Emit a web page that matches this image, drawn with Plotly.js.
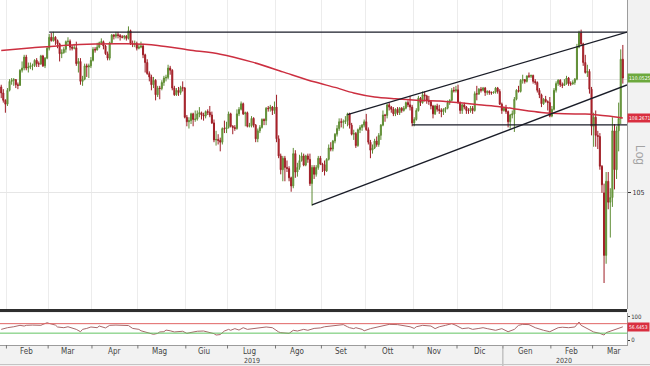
<!DOCTYPE html>
<html><head><meta charset="utf-8">
<script src="https://cdn.plot.ly/plotly-3.0.1.min.js"></script>
<style>html,body{margin:0;padding:0;background:#f2f2f2;}#chart{width:650px;height:366px;}</style>
</head><body><div id="chart"></div>
<script>
// ---------- DATA (USD/JPY daily) ----------
const firstDay = '2019-01-29';
const open = [
109.65,109.38,109.05,
108.88,109.50,109.90,109.95,109.98,109.75,109.72,110.40,110.50,111.00,110.50,110.55,110.60,110.62,110.85,110.70,110.68,111.05,110.60,110.95,
111.40,111.90,111.75,111.90,111.75,111.60,111.15,111.20,111.35,111.70,111.72,111.45,111.40,111.42,110.70,110.80,109.90,110.00,110.60,110.55,110.60,
110.85,111.35,111.32,111.45,111.65,111.70,111.50,111.15,110.95,111.65,112.00,111.95,112.02,111.98,111.92,111.90,111.95,111.85,112.20,111.60,111.58,111.62,
111.40,111.45,111.50,111.10,110.75,110.25,110.10,109.75,109.95,109.30,109.60,109.58,109.85,110.05,110.08,110.50,110.40,109.60,109.30,109.50,109.40,109.62,109.60,
108.30,108.10,108.15,108.45,108.20,108.22,108.45,108.50,108.40,108.35,108.55,108.52,108.40,108.05,107.30,107.32,107.28,107.20,107.80,107.78,
107.85,108.45,107.90,107.85,107.80,108.45,108.65,108.90,108.45,108.50,107.90,107.92,108.25,107.95,107.35,107.70,107.85,108.20,108.15,108.70,108.68,108.75,108.60,
108.75,107.35,106.60,106.00,106.50,106.10,106.05,105.65,105.30,106.70,105.90,106.10,106.40,106.60,106.20,106.60,106.45,105.40,106.10,105.80,106.10,106.50,
106.25,106.22,105.95,106.45,106.95,106.90,107.25,107.55,107.80,108.10,108.08,108.10,108.15,108.45,107.95,107.55,107.58,107.05,107.75,107.85,107.95,
108.10,107.75,107.20,106.85,106.95,107.25,107.10,107.50,107.95,108.40,108.38,108.85,108.75,108.65,108.45,108.65,108.50,108.70,108.60,108.70,108.95,108.85,108.75,
108.05,108.20,108.60,109.15,108.95,109.30,109.25,109.05,109.00,108.80,108.45,108.80,108.65,108.60,108.55,108.65,108.70,108.95,109.05,109.50,109.48,
109.52,108.95,108.60,108.85,108.75,108.60,108.58,108.70,108.60,109.35,109.33,109.55,109.50,109.60,109.40,109.45,109.40,109.38,109.42,109.60,109.45,108.88,
108.60,108.70,108.55,108.10,108.40,108.45,109.10,109.50,109.45,109.95,109.98,109.90,110.15,110.13,110.17,109.90,109.85,109.50,109.30,108.90,109.10,109.00,108.95,
108.35,108.65,109.50,109.80,109.95,109.75,109.72,109.80,110.05,109.80,109.78,109.85,110.00,111.45,112.10,111.60,110.75,110.30,110.35,109.55,
107.90,108.30,107.50,107.45,106.15,105.00,102.35,105.50,104.60,104.80,107.70,106.00,107.70,108.25,110.90
];
const high = [
109.75,109.55,109.10,
109.60,110.00,110.05,110.05,110.00,109.85,110.45,110.80,111.10,111.10,110.75,110.75,110.70,110.90,110.95,110.80,111.10,111.10,111.00,111.45,
112.05,112.10,112.15,111.95,111.80,111.65,111.35,111.45,111.75,111.90,111.80,111.55,111.60,111.70,110.95,110.95,110.15,110.70,110.70,110.70,111.00,
111.45,111.45,111.65,111.70,111.85,111.75,111.55,111.25,111.70,112.05,112.05,112.15,112.15,112.05,112.00,112.00,112.00,112.40,112.25,111.75,111.75,111.70,
111.60,111.70,111.60,111.15,110.90,110.35,110.20,110.10,110.00,109.70,109.70,109.95,110.15,110.20,110.65,110.60,110.45,109.70,109.60,109.65,109.70,109.90,109.65,
108.40,108.30,108.50,108.50,108.60,108.60,108.75,108.55,108.50,108.60,108.65,108.80,108.55,108.20,107.70,107.55,107.40,107.85,108.15,108.10,
108.55,108.50,107.95,107.95,108.65,108.75,109.00,108.95,108.55,108.55,108.05,108.35,108.30,108.00,107.80,107.95,108.25,108.25,108.75,108.80,108.85,108.80,109.00,
109.30,107.50,106.70,106.60,106.60,106.40,106.15,105.70,106.95,106.85,106.30,106.65,106.75,106.70,106.65,106.70,106.70,106.20,106.20,106.20,106.60,106.60,
106.30,106.40,106.50,107.10,107.20,107.30,107.60,107.95,108.25,108.25,108.20,108.35,108.50,108.50,108.05,107.75,107.65,107.80,107.95,108.00,108.20,
108.45,107.85,107.30,107.10,107.35,107.45,107.60,108.00,108.60,108.45,108.90,108.95,108.80,108.75,108.70,108.75,108.75,108.75,108.80,109.00,109.05,109.25,108.85,
108.30,108.70,109.25,109.20,109.45,109.45,109.30,109.25,109.05,108.85,108.85,108.90,108.85,108.70,108.70,108.75,109.05,109.10,109.60,109.65,109.70,
109.75,109.00,108.90,108.95,108.80,108.70,108.80,108.80,109.45,109.70,109.60,109.65,109.65,109.65,109.50,109.50,109.45,109.45,109.65,109.65,109.55,108.95,
108.75,108.85,108.60,108.45,108.60,109.20,109.55,109.70,110.00,110.20,110.00,110.15,110.30,110.20,110.20,110.00,109.90,109.60,109.35,109.15,109.25,109.05,109.20,
108.80,109.60,109.90,110.00,110.00,109.85,110.00,110.15,110.10,109.90,109.95,110.05,111.60,112.20,112.25,111.65,111.10,110.65,110.45,109.65,
108.50,108.60,107.70,107.60,106.20,105.40,105.90,105.90,105.20,108.30,108.00,107.90,108.95,111.35,111.55
];
const low = [
109.15,108.95,108.50,
108.80,109.45,109.75,109.70,109.60,109.55,109.70,110.30,110.40,110.40,110.30,110.45,110.40,110.55,110.55,110.55,110.65,110.55,110.50,110.90,
111.30,111.70,111.70,111.55,111.40,110.80,110.95,111.15,111.20,111.55,111.30,111.30,111.35,110.60,110.30,109.75,109.70,109.95,110.10,110.05,110.50,
110.80,111.20,111.30,111.40,111.55,111.35,111.10,110.85,110.85,111.60,111.80,111.85,111.85,111.75,111.85,111.80,111.75,111.80,111.55,111.45,111.45,111.30,
111.35,111.40,110.95,110.30,110.20,109.90,109.50,109.60,109.05,109.20,109.10,109.50,109.70,109.90,110.00,110.20,109.50,109.25,109.25,109.25,109.30,109.45,108.25,
107.90,107.80,108.00,107.90,108.10,108.15,108.30,108.20,108.15,108.25,108.40,108.30,108.00,107.20,107.05,107.10,106.80,107.10,107.60,107.60,
107.80,107.85,107.55,107.70,107.75,108.35,108.60,108.40,107.90,107.85,107.85,107.85,107.85,107.20,107.20,107.60,107.80,107.95,107.95,108.55,108.55,108.40,108.45,
107.20,106.50,105.80,105.50,105.50,105.90,105.50,105.05,105.20,105.65,105.70,106.00,106.35,106.15,106.15,106.30,105.30,104.45,105.60,105.70,106.00,106.20,
105.90,105.75,105.90,106.40,106.80,106.80,107.15,107.45,107.70,107.85,107.80,108.00,107.90,107.80,107.50,107.30,106.95,107.00,107.60,107.70,107.85,
107.70,107.10,106.50,106.70,106.90,107.00,107.00,107.30,107.90,108.10,108.25,108.60,108.50,108.35,108.35,108.40,108.40,108.50,108.55,108.65,108.75,108.60,107.90,
107.90,108.15,108.55,108.80,108.90,109.00,108.90,108.85,108.65,108.25,108.40,108.55,108.45,108.30,108.40,108.50,108.65,108.85,109.00,109.40,109.40,
108.90,108.45,108.45,108.65,108.45,108.45,108.50,108.45,108.55,109.05,109.30,109.40,109.45,109.25,109.30,109.30,109.30,109.35,109.35,109.35,108.85,108.45,
108.55,108.45,107.85,107.80,108.25,107.65,109.05,109.40,109.40,109.80,109.80,109.85,110.05,110.05,109.80,109.75,109.40,109.15,108.75,108.85,108.95,108.60,108.30,
108.30,108.60,109.40,109.70,109.65,109.60,109.70,109.75,109.70,109.70,109.75,109.75,109.95,111.40,111.50,110.60,110.25,110.10,109.35,107.50,
107.00,107.00,106.90,106.00,105.00,101.20,102.00,104.30,103.10,104.40,105.15,105.60,106.80,108.00,109.80
];
const close = [
109.38,109.05,108.88,
109.50,109.90,109.95,109.98,109.75,109.72,110.40,110.50,111.00,110.50,110.55,110.60,110.62,110.85,110.70,110.68,111.05,110.60,110.95,111.40,
111.90,111.75,111.90,111.75,111.60,111.15,111.20,111.35,111.70,111.72,111.45,111.40,111.42,110.70,110.80,109.90,110.00,110.60,110.55,110.60,110.85,
111.35,111.32,111.45,111.65,111.70,111.50,111.15,110.95,111.65,112.00,111.95,112.02,111.98,111.92,111.90,111.95,111.85,112.20,111.60,111.58,111.62,111.40,
111.45,111.50,111.10,110.75,110.25,110.10,109.75,109.95,109.30,109.60,109.58,109.85,110.05,110.08,110.50,110.40,109.60,109.30,109.50,109.40,109.62,109.60,108.30,
108.10,108.15,108.45,108.20,108.22,108.45,108.50,108.40,108.35,108.55,108.52,108.40,108.05,107.30,107.32,107.28,107.20,107.80,107.78,107.85,
108.45,107.90,107.85,107.80,108.45,108.65,108.90,108.45,108.50,107.90,107.92,108.25,107.95,107.35,107.70,107.85,108.20,108.15,108.70,108.68,108.75,108.60,108.75,
107.35,106.60,106.00,106.50,106.10,106.05,105.65,105.30,106.70,105.90,106.10,106.40,106.60,106.20,106.60,106.45,105.40,106.10,105.80,106.10,106.50,106.25,
106.22,105.95,106.45,106.95,106.90,107.25,107.55,107.80,108.10,108.08,108.10,108.15,108.45,107.95,107.55,107.58,107.05,107.75,107.85,107.95,108.10,
107.75,107.20,106.85,106.95,107.25,107.10,107.50,107.95,108.40,108.38,108.85,108.75,108.65,108.45,108.65,108.50,108.70,108.60,108.70,108.95,108.85,108.75,108.05,
108.20,108.60,109.15,108.95,109.30,109.25,109.05,109.00,108.80,108.45,108.80,108.65,108.60,108.55,108.65,108.70,108.95,109.05,109.50,109.48,109.52,
108.95,108.60,108.85,108.75,108.60,108.58,108.70,108.60,109.35,109.33,109.55,109.50,109.60,109.40,109.45,109.40,109.38,109.42,109.60,109.45,108.88,108.60,
108.70,108.55,108.10,108.40,108.45,109.10,109.50,109.45,109.95,109.98,109.90,110.15,110.13,110.17,109.90,109.85,109.50,109.30,108.90,109.10,109.00,108.95,108.35,
108.65,109.50,109.80,109.95,109.75,109.72,109.80,110.05,109.80,109.78,109.85,110.00,111.45,112.10,111.60,110.75,110.30,110.35,109.55,107.90,
108.30,107.50,107.45,106.15,105.35,102.35,105.50,104.60,104.80,107.70,106.00,107.70,108.25,110.90,110.05
];
const maDates = ['2019-01-29','2019-02-19','2019-03-12','2019-04-02','2019-04-23','2019-05-14','2019-06-04','2019-06-25','2019-07-16','2019-08-06','2019-08-27','2019-09-10','2019-09-23','2019-10-07','2019-10-21','2019-11-04','2019-11-19','2019-12-03','2019-12-16','2019-12-30','2020-01-13','2020-01-27','2020-02-11','2020-02-25','2020-03-04','2020-03-11','2020-03-20'];
const maValues = [111.30,111.42,111.53,111.59,111.60,111.53,111.32,111.13,110.78,110.33,109.88,109.63,109.38,109.20,109.12,109.06,109.02,108.94,108.85,108.77,108.63,108.51,108.45,108.44,108.40,108.35,108.2671];
const rsiDates = ['2019-01-29','2019-01-30','2019-02-01','2019-02-06','2019-02-11','2019-02-13','2019-02-14','2019-02-19','2019-02-25','2019-02-26','2019-02-28','2019-03-01','2019-03-06','2019-03-07','2019-03-12','2019-03-14','2019-03-18','2019-03-20','2019-03-22','2019-03-25','2019-03-27','2019-03-29','2019-04-03','2019-04-04','2019-04-09','2019-04-11','2019-04-16','2019-04-19','2019-04-23','2019-04-24','2019-04-26','2019-05-01','2019-05-02','2019-05-07','2019-05-08','2019-05-10','2019-05-14','2019-05-15','2019-05-17','2019-05-20','2019-05-22','2019-05-24','2019-05-30','2019-06-03','2019-06-05','2019-06-10','2019-06-13','2019-06-17','2019-06-20','2019-06-21','2019-06-25','2019-06-27','2019-07-01','2019-07-02','2019-07-04','2019-07-08','2019-07-10','2019-07-12','2019-07-17','2019-07-22','2019-07-25','2019-07-30','2019-07-31','2019-08-02','2019-08-05','2019-08-08','2019-08-09','2019-08-13','2019-08-15','2019-08-20','2019-08-22','2019-08-27','2019-08-30','2019-09-03','2019-09-06','2019-09-10','2019-09-12','2019-09-16','2019-09-18','2019-09-19','2019-09-23','2019-09-24','2019-09-27','2019-09-30','2019-10-03','2019-10-07','2019-10-09','2019-10-11','2019-10-16','2019-10-22','2019-10-25','2019-10-30','2019-11-01','2019-11-04','2019-11-07','2019-11-13','2019-11-15','2019-11-19','2019-11-22','2019-11-27','2019-11-29','2019-12-03','2019-12-04','2019-12-09','2019-12-11','2019-12-16','2019-12-18','2019-12-20','2019-12-24','2019-12-26','2019-12-31','2020-01-03','2020-01-08','2020-01-10','2020-01-14','2020-01-17','2020-01-22','2020-01-24','2020-01-28','2020-01-31','2020-02-04','2020-02-06','2020-02-10','2020-02-13','2020-02-18','2020-02-20','2020-02-21','2020-02-25','2020-02-27','2020-03-02','2020-03-05','2020-03-09','2020-03-10','2020-03-12','2020-03-16','2020-03-18','2020-03-20'];
const rsiValues = [46,49,53,57,63,60,63,64,63,67,74,71,64,56,53,57,52,46,36,46,50,56,53,60,52,63,64,63,60,62,50,46,40,32,28,25,29,35,36,43,40,35,38,29,33,38,39,35,28,22,24,39,46,42,49,43,53,46,49,52,56,53,46,35,32,32,29,42,39,46,42,50,52,57,60,64,67,66,57,53,49,53,46,40,49,53,57,64,67,66,63,57,50,57,63,60,49,57,63,70,63,53,49,52,46,50,53,49,46,42,49,36,46,63,67,66,53,46,42,36,43,53,55,53,56,77,63,53,43,35,29,22,32,38,46,50,56.6453];
const rsiLevels = [70, 30];
const rsiTicks = [0, 100];
const priceTicks = [105, 110];
const priceTickText = ['105', ''];
const trendStartDates = ['2019-03-01','2019-09-18','2019-08-26','2019-10-31'];
const trendStartPrices = [112.14, 108.42, 104.49, 107.96];
const trendEndDates = ['2020-03-24','2020-03-24','2020-03-24','2020-03-24'];
const trendEndPrices = [112.14, 112.14, 109.74, 107.96];
const lastPrice = 110.0525, lastMA = 108.2671, lastRSI = 56.6453;
const monthBoundaries = ['2019-01-31 12:00','2019-02-28 12:00','2019-03-29 12:00','2019-04-30 12:00','2019-05-31 12:00','2019-06-28 12:00','2019-07-31 12:00','2019-08-30 12:00','2019-09-30 12:00','2019-10-31 12:00','2019-11-29 12:00','2019-12-31 12:00','2020-01-31 12:00','2020-02-28 12:00'];
const monthLabelDates = ['2019-02-14','2019-03-14','2019-04-15','2019-05-15','2019-06-13','2019-07-15','2019-08-15','2019-09-13','2019-10-15','2019-11-14 12:00','2019-12-16 12:00','2020-01-15 12:00','2020-02-14 12:00','2020-03-16'];
const monthLabels = ['Feb','Mar','Apr','Mag','Giu','Lug','Ago','Set','Ott','Nov','Dic','Gen','Feb','Mar'];
const yearLabels = ['2019','2020'];
const yearLabelDates = ['2019-07-16','2020-02-11'];
const yearBoundary = '2019-12-31 12:00';

// ---------- build ----------
function weekdaySeries(start, n){
  const out=[]; const d=new Date(start+'T00:00:00Z');
  while(out.length<n){ const wd=d.getUTCDay(); if(wd!==0&&wd!==6) out.push(d.toISOString().slice(0,10)); d.setUTCDate(d.getUTCDate()+1); }
  return out;
}
const dates = weekdaySeries(firstDay, close.length);
const FONT = 'Liberation Sans Narrow, DejaVu Sans Condensed, Liberation Sans, sans-serif';
const breaks = [{bounds:['sat','mon']}];
const xRange = ['2019-01-28 10:00','2020-03-24 00:00'];

const traces = [];
traces.push({type:'candlestick', x:dates, open:open, high:high, low:low, close:close,
  xaxis:'x', yaxis:'y', whiskerwidth:0, hoverinfo:'skip',
  increasing:{line:{color:'#5e8c34', width:1}, fillcolor:'#7fb046'},
  decreasing:{line:{color:'#9e1d25', width:1}, fillcolor:'#c8262f'}});
traces.push({type:'scatter', mode:'lines', x:maDates, y:maValues, xaxis:'x', yaxis:'y',
  line:{color:'#cc2f40', width:1.5, shape:'spline', smoothing:0.8}, hoverinfo:'skip'});
for(let k=0;k<trendStartDates.length;k++){
  traces.push({type:'scatter', mode:'lines', x:[trendStartDates[k],trendEndDates[k]], y:[trendStartPrices[k],trendEndPrices[k]],
    xaxis:'x', yaxis:'y', line:{color:'#1a1d28', width:1.3}, hoverinfo:'skip'});
}
traces.push({type:'scatter', mode:'lines', x:rsiDates, y:rsiValues, xaxis:'x2', yaxis:'y2',
  line:{color:'#a8686a', width:1}, hoverinfo:'skip'});

const H = 345; // plot area height in px
const py = p => (H - p)/H;
const shapes = [];
shapes.push({type:'rect', xref:'paper', yref:'paper', x0:0, x1:1, y0:py(312), y1:py(309), fillcolor:'#2e2e2e', line:{width:0}});
const lvlColors = ['#e06464','#62c462'];
rsiLevels.forEach((v,k)=>shapes.push({type:'line', xref:'paper', yref:'y2', x0:0, x1:1, y0:v, y1:v, line:{color:lvlColors[k], width:1}}));
monthBoundaries.forEach(d=>shapes.push({type:'line', xref:'x2', yref:'paper', x0:d, x1:d, y0:0, y1:py(348.5), line:{color:'#777', width:1}}));
shapes.push({type:'line', xref:'x2', yref:'paper', x0:yearBoundary, x1:yearBoundary, y0:0, y1:py(366), line:{color:'#aaa', width:1}});
shapes.push({type:'line', xref:'paper', yref:'paper', x0:0, x1:1.04, y0:py(364.5), y1:py(364.5), line:{color:'#c4c4c4', width:1}});

const annotations = [];
monthLabels.forEach((t,k)=>annotations.push({xref:'x2', yref:'paper', x:monthLabelDates[k], y:py(351.5), text:t, showarrow:false, xanchor:'center', yanchor:'middle', font:{size:8, color:'#444', family:FONT}}));
yearLabels.forEach((t,k)=>annotations.push({xref:'x2', yref:'paper', x:yearLabelDates[k], y:py(361), text:t, showarrow:false, xanchor:'center', yanchor:'middle', font:{size:7, color:'#444', family:FONT}}));
const boxFont = {size:5, color:'#ffffff', family:FONT};
annotations.push({xref:'paper', yref:'y', x:1, xshift:0, xanchor:'left', y:Math.log10(lastPrice), yanchor:'middle', text:lastPrice.toFixed(4), showarrow:false, bgcolor:'#6da93e', borderpad:1, font:boxFont});
annotations.push({xref:'paper', yref:'y', x:1, xshift:0, xanchor:'left', y:Math.log10(lastMA), yanchor:'middle', text:lastMA.toFixed(4), showarrow:false, bgcolor:'#d92f40', borderpad:1, font:boxFont});
annotations.push({xref:'paper', yref:'y2', x:1, xshift:0, xanchor:'left', y:lastRSI, yanchor:'middle', text:lastRSI.toFixed(4), showarrow:false, bgcolor:'#d92f40', borderpad:1, font:boxFont});
annotations.push({xref:'paper', yref:'paper', x:1, xshift:13, xanchor:'center', y:py(155), yanchor:'middle', text:'Log', textangle:90, showarrow:false, font:{size:12, color:'#a3a3a3', family:'Liberation Sans, sans-serif'}});

const layout = {
  width:650, height:366, margin:{l:0, r:23, t:0, b:21, pad:0},
  paper_bgcolor:'#f2f2f2', plot_bgcolor:'#ffffff', showlegend:false,
  font:{family:FONT, size:8, color:'#333'},
  xaxis:{type:'date', domain:[0,1], anchor:'y', range:xRange, rangebreaks:breaks, rangeslider:{visible:false},
    tickmode:'array', tickvals:monthBoundaries, showticklabels:false, ticks:'', showgrid:true, gridcolor:'#ececec', gridwidth:1, zeroline:false, showline:false, fixedrange:true},
  yaxis:{type:'log', domain:[py(309),1], anchor:'x', side:'right', range:[Math.log10(100.13), Math.log10(113.62)],
    tickmode:'array', tickvals:priceTicks, ticktext:priceTickText, ticks:'outside', ticklen:3, tickcolor:'#333',
    showgrid:true, gridcolor:'#e6e6e6', showline:true, linecolor:'#9c9c9c', linewidth:1, zeroline:false, tickfont:{size:7, color:'#333'}},
  xaxis2:{type:'date', domain:[0,1], anchor:'y2', matches:'x', range:xRange, rangebreaks:breaks, rangeslider:{visible:false},
    tickmode:'array', tickvals:monthBoundaries, showticklabels:false, ticks:'', showgrid:false, showline:true, linecolor:'#9c9c9c', zeroline:false},
  yaxis2:{domain:[0,py(313)], anchor:'x2', side:'right', range:[-20,115], tickmode:'array', tickvals:rsiTicks, ticks:'outside', ticklen:2, tickcolor:'#333',
    showgrid:false, showline:true, linecolor:'#9c9c9c', zeroline:false, tickfont:{size:6, color:'#333'}},
  shapes:shapes, annotations:annotations
};
Plotly.newPlot('chart', traces, layout, {staticPlot:true, displayModeBar:false});
</script>
</body></html>
